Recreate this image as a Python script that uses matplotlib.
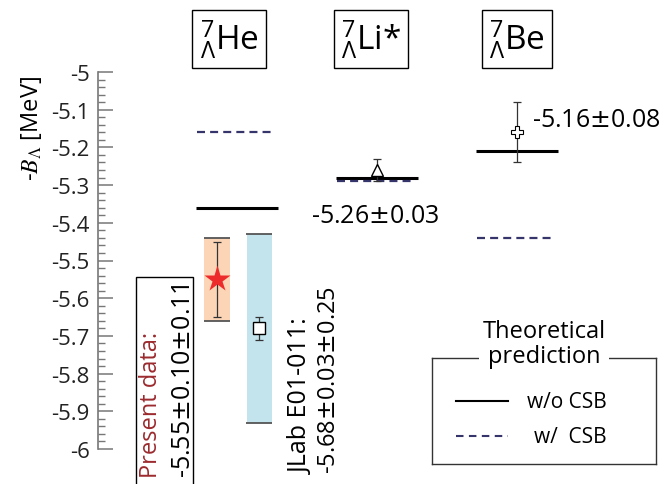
import numpy as np
import matplotlib
matplotlib.use("Agg")
import matplotlib.pyplot as plt
from matplotlib.ticker import FixedLocator

plt.rcParams['font.family'] = ['Open Sans', 'DejaVu Sans']
plt.rcParams['mathtext.fontset'] = 'custom'
plt.rcParams['mathtext.rm'] = 'Open Sans'
plt.rcParams['mathtext.it'] = 'Open Sans:italic'
plt.rcParams['mathtext.bf'] = 'Open Sans:bold'
plt.rcParams['mathtext.sf'] = 'Open Sans'

# --- data ---
nuclei = ["He", "Li*", "Be"]
theory_no_csb = [-5.36, -5.28, -5.21]   # w/o CSB
theory_csb = [-5.16, -5.29, -5.44]      # w/ CSB

present_val, present_stat, present_syst = -5.55, 0.10, 0.11
jlab_val, jlab_stat, jlab_syst = -5.68, 0.03, 0.25
li_val, li_err = -5.26, 0.03
be_val, be_err = -5.16, 0.08

yticks = [-5.0, -5.1, -5.2, -5.3, -5.4, -5.5, -5.6, -5.7, -5.8, -5.9, -6.0]
ytick_labels = ["-5", "-5.1", "-5.2", "-5.3", "-5.4", "-5.5",
                "-5.6", "-5.7", "-5.8", "-5.9", "-6"]
legend_labels = ["w/o CSB", "w/  CSB"]

PM = r"$\pm$"

# --- layout (pixel-like x coordinates) ---
W, H = 671, 485
y0_px, px_per_unit = 73, 377
group_x = np.array([237, 377, 517])
half = 41
dash_col = '#35356b'

fig = plt.figure(figsize=(W / 100, H / 100), dpi=100)
ax = fig.add_axes([0, 0, 1, 1])
ax.set_xlim(0, W)
ax.set_ylim(-5 - (H - y0_px) / px_per_unit, -5 + y0_px / px_per_unit)

for s in ['top', 'right', 'bottom']:
    ax.spines[s].set_visible(False)
ax.spines['left'].set_position(('data', 98))
ax.spines['left'].set_bounds(-6, -5)
ax.spines['left'].set_color('#777777')
ax.spines['left'].set_linewidth(1.2)
ax.xaxis.set_visible(False)
ax.set_yticks(yticks, ytick_labels)
ax.yaxis.set_minor_locator(FixedLocator(np.arange(-6.0, -4.999, 0.02)))
ax.tick_params(axis='y', which='major', direction='in', length=11, width=1.1,
               color='#777777', labelsize=16, labelcolor='#222222', pad=6)
ax.tick_params(axis='y', which='minor', direction='in', length=5, width=1.0,
               color='#777777')

# theory lines
ax.hlines(theory_no_csb, group_x - half, group_x + half, color='black', lw=2.2, zorder=3)
ax.hlines(theory_csb, group_x - half + 1, group_x + half - 3, color=dash_col, lw=1.6,
          linestyles=(0, (3.6, 2.3)), zorder=3)

# He: present data (orange band) and JLab (blue band)
xp, xj = group_x[0] - 20, group_x[0] + 22
ax.bar(xp, 2 * present_syst, bottom=present_val - present_syst, width=26,
       color='#fbd5b6', zorder=1)
ax.bar(xj, 2 * jlab_syst, bottom=jlab_val - jlab_syst, width=25,
       color='#c3e4ed', zorder=1)
for x, v, s in [(xp, present_val, present_syst), (xj, jlab_val, jlab_syst)]:
    ax.hlines([v + s, v - s], x - 13, x + 13, color='#555555', lw=1.3, zorder=2)

eb = dict(fmt='none', ecolor='#333333', elinewidth=0.9, capsize=3, capthick=0.9, zorder=4)
ax.errorbar(xp, present_val, yerr=present_stat, **eb)
ax.errorbar(xj, jlab_val, yerr=jlab_stat, **eb)
ax.errorbar(group_x[1], li_val, yerr=li_err, **eb)
ax.errorbar(group_x[2], be_val, yerr=be_err, **eb)

ax.plot(xp, present_val, marker='*', ms=20, color='#ee2b2b', mec='none', zorder=5)
ax.plot(xj, jlab_val, marker='s', ms=8, mfc='white', mec='black', mew=1.0, zorder=5)
ax.plot(group_x[1], li_val, marker='^', ms=9, mfc='white', mec='black', mew=1.0, zorder=5)
ax.plot(group_x[2], be_val, marker='P', ms=9, mfc='white', mec='black', mew=0.8, zorder=5)

# value annotations
ax.annotate("-5.26" + PM + "0.03", (group_x[1], li_val), xytext=(-2, -45),
            textcoords='offset pixels', ha='center', va='center', fontsize=18,
            math_fontfamily='dejavusans')
ax.annotate("-5.16" + PM + "0.08", (group_x[2], be_val), xytext=(15, 13),
            textcoords='offset pixels', ha='left', va='center', fontsize=18,
            math_fontfamily='dejavusans')

# nucleus labels in boxes
label_x = [229, 371, 517]
tx = ax.get_xaxis_transform()
for x, name in zip(label_x, nuclei):
    ax.text(x, 1 - 40 / H, r"${}^{7}_{\Lambda}$" + name, transform=tx,
            ha='center', va='center', fontsize=24,
            bbox=dict(boxstyle='square,pad=0.22', fc='white', ec='black', lw=1.0))

# rotated data captions
ax.text(157, 1 - 478 / H, "Present data:", transform=tx, rotation=90,
        rotation_mode='anchor', ha='left', va='baseline', fontsize=17,
        color='#9b2a2e')
ax.text(190, 1 - 478 / H, "-5.55" + PM + "0.10" + PM + "0.11", transform=tx,
        rotation=90, rotation_mode='anchor', ha='left', va='baseline', fontsize=18,
        math_fontfamily='dejavusans')
ax.add_patch(plt.Rectangle((136, -0.05), 57, 1 - 278 / H + 0.05, transform=tx,
                           fill=False, ec='black', lw=1.0, clip_on=False))
ax.text(308, 1 - 474 / H, "JLab E01-011:", transform=tx, rotation=90,
        rotation_mode='anchor', ha='left', va='baseline', fontsize=18)
ax.text(335, 1 - 474 / H, "-5.68" + PM + "0.03" + PM + "0.25", transform=tx,
        rotation=90, rotation_mode='anchor', ha='left', va='baseline', fontsize=17,
        math_fontfamily='dejavusans')

# y label
ax.text(38, 1 - 128 / H, r"-$B_{\Lambda}$ [MeV]", transform=tx, rotation=90,
        rotation_mode='anchor', ha='center', va='baseline', fontsize=17,
        math_fontfamily='stix')

# legend
lax = fig.add_axes([432 / W, (H - 465) / H, 224 / W, 106 / H])
lax.set_xlim(0, 1)
lax.set_ylim(0, 1)
lax.set_xticks([])
lax.set_yticks([])
for s in lax.spines.values():
    s.set_color('#333333')
    s.set_linewidth(1.0)
lax.text(0.5, 1.14, "Theoretical\nprediction", ha='center', va='center',
         fontsize=17, linespacing=1.05, clip_on=False,
         bbox=dict(boxstyle='square,pad=0.15', fc='white', ec='none'))
lax.plot([0.107, 0.339], [0.594, 0.594], color='black', lw=1.5)
lax.plot([0.107, 0.339], [0.264, 0.264], color=dash_col, lw=1.5,
         linestyle=(0, (3.6, 2.6)))
lax.text(0.424, 0.594, legend_labels[0], ha='left', va='center', fontsize=15)
lax.text(0.455, 0.264, legend_labels[1], ha='left', va='center', fontsize=15)

fig.savefig('out.png', dpi=100)
